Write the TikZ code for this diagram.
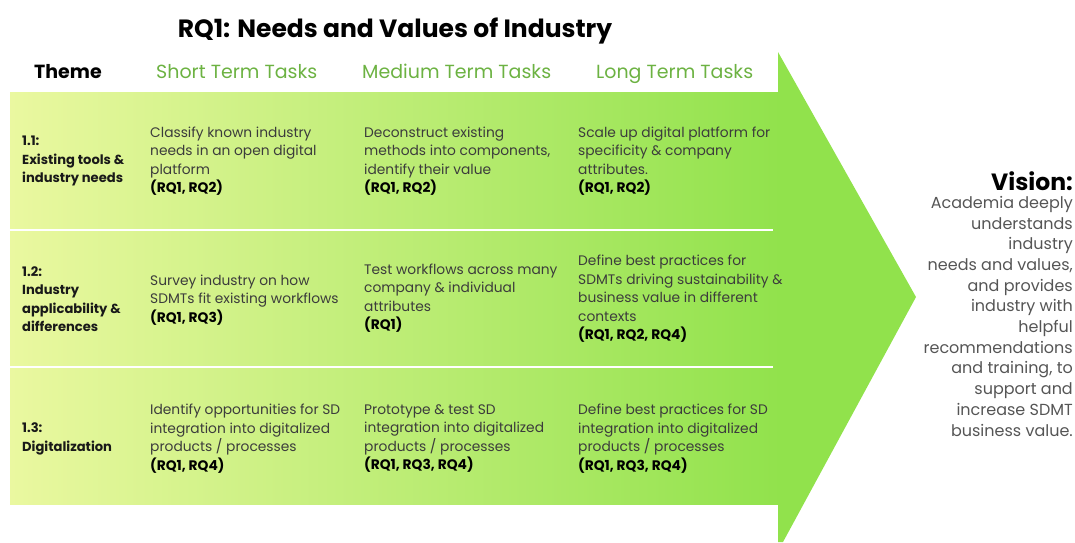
\documentclass[tikz,border=0pt]{standalone}
\usepackage{fontspec}
\setmainfont{Poppins}
\definecolor{lightg}{RGB}{234,248,160}
\definecolor{darkg}{RGB}{145,226,76}
\definecolor{headg}{RGB}{108,178,66}
\definecolor{bodytxt}{RGB}{60,60,60}
\definecolor{vistxt}{RGB}{85,85,85}
\definecolor{themetxt}{RGB}{25,25,25}
\newcommand{\rqb}[1]{\textcolor{black}{\bfseries #1}}
\begin{document}
\begin{tikzpicture}[x=1pt,y=-1pt,
 cell/.style={anchor=west,align=left,inner sep=0pt,text=bodytxt,font=\fontsize{13.8}{18.5}\selectfont},
 theme/.style={anchor=west,align=left,inner sep=0pt,text=themetxt,font=\bfseries\fontsize{13.1}{18.5}\selectfont},
 head/.style={anchor=base west,inner sep=0pt,text=headg,font=\fontsize{19}{22}\selectfont},
 sep/.style={white,line width=2pt},
]
\useasboundingbox (0,0) rectangle (1075,542);
% arrow
\shade[left color=lightg,right color=darkg] (10,92) rectangle (781,504);
\fill[darkg] (778,52) -- (916,297) -- (783,542) -- (778,542) -- cycle;
\draw[sep] (10,230) -- (773,230);
\draw[sep] (10,367) -- (773,367);
% title
\node[anchor=base,inner sep=0pt,font=\bfseries\fontsize{25}{28}\selectfont] (title) at (395,37) {RQ1: Needs and Values of Industry};
% headers
\node[anchor=base west,inner sep=0pt,font=\bfseries\fontsize{19}{22}\selectfont] (hTheme) at (34,78) {Theme};
\node[head] (hShort) at (156,78) {Short Term Tasks};
\node[head] (hMed) at (362,78) {Medium Term Tasks};
\node[head] (hLong) at (596,78) {Long Term Tasks};
% row 1
\node[theme] (t1) at (22,161) {1.1:\\Existing tools \&\\industry needs};
\node[cell] (s1) at (150,161) {Classify known industry\\needs in an open digital\\platform\\\rqb{(RQ1, RQ2)}};
\node[cell] (m1) at (364,161) {Deconstruct existing\\methods into components,\\identify their value\\\rqb{(RQ1, RQ2)}};
\node[cell] (l1) at (578,161) {Scale up digital platform for\\specificity \& company\\attributes.\\\rqb{(RQ1, RQ2)}};
% row 2
\node[theme] (t2) at (22,299) {1.2:\\Industry\\applicability \&\\differences};
\node[cell] (s2) at (150,300) {Survey industry on how\\SDMTs fit existing workflows\\\rqb{(RQ1, RQ3)}};
\node[cell] (m2) at (364,298) {Test workflows across many\\company \& individual\\attributes\\\rqb{(RQ1)}};
\node[cell] (l2) at (578,299) {Define best practices for\\SDMTs driving sustainability \&\\business value in different\\contexts\\\rqb{(RQ1, RQ2, RQ4)}};
% row 3
\node[theme] (t3) at (22,439) {1.3:\\Digitalization};
\node[cell] (s3) at (150,438.5) {Identify opportunities for SD\\integration into digitalized\\products / processes\\\rqb{(RQ1, RQ4)}};
\node[cell] (m3) at (364,438.5) {Prototype \& test SD\\integration into digitalized\\products / processes\\\rqb{(RQ1, RQ3, RQ4)}};
\node[cell] (l3) at (578,438.5) {Define best practices for SD\\integration into digitalized\\products / processes\\\rqb{(RQ1, RQ3, RQ4)}};
% vision
\node[anchor=base east,inner sep=0pt,font=\bfseries\fontsize{23.5}{26}\selectfont] (vis) at (1073,190) {Vision:};
\node[anchor=north east,align=right,inner sep=0pt,text=vistxt,font=\fontsize{16}{20.7}\selectfont] (vtext) at (1073,196) {Academia deeply\\understands\\industry\\needs and values,\\and provides\\industry with\\helpful\\recommendations\\and training, to\\support and\\increase SDMT\\business value.};
\end{tikzpicture}
\end{document}
